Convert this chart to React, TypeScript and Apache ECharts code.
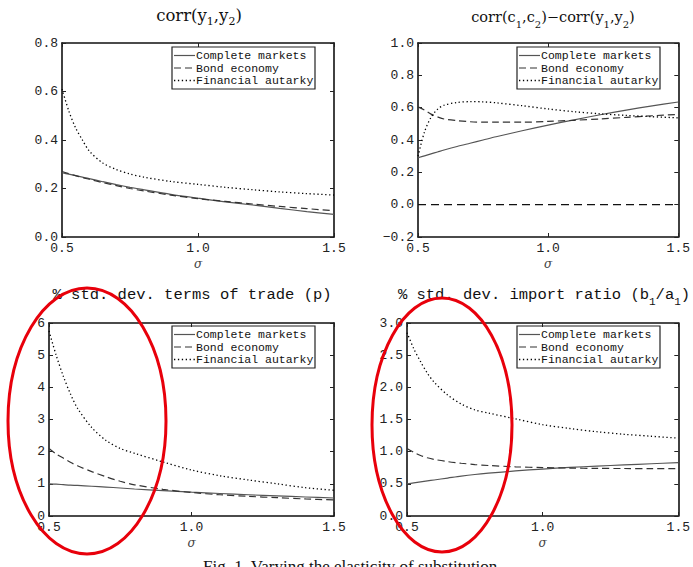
import React, { useEffect, useRef } from "react";
import * as echarts from "echarts";

// sigma grid (elasticity of substitution)
const sigma = [0.5, 0.525, 0.55, 0.575, 0.6, 0.65, 0.7, 0.75, 0.8, 0.9, 1.0, 1.1, 1.2, 1.3, 1.4, 1.5];
const xTicks = [0.5, 1.0, 1.5];
const seriesNames = ["Complete markets", "Bond economy", "Financial autarky"];

// Panel 1: corr(y1,y2)
const complete1 = [0.265, 0.259, 0.253, 0.247, 0.241, 0.228, 0.216, 0.205, 0.195, 0.176, 0.160, 0.145, 0.132, 0.118, 0.105, 0.093];
const bond1 = [0.270, 0.261, 0.253, 0.245, 0.238, 0.224, 0.212, 0.200, 0.190, 0.173, 0.158, 0.147, 0.136, 0.126, 0.117, 0.108];
const autarky1 = [0.610, 0.520, 0.450, 0.400, 0.355, 0.305, 0.278, 0.260, 0.247, 0.229, 0.217, 0.205, 0.195, 0.186, 0.179, 0.173];

// Panel 2: corr(c1,c2)-corr(y1,y2)
const complete2 = [0.290, 0.302, 0.314, 0.326, 0.338, 0.360, 0.380, 0.400, 0.420, 0.457, 0.492, 0.525, 0.556, 0.585, 0.611, 0.635];
const bond2 = [0.605, 0.585, 0.560, 0.543, 0.530, 0.520, 0.513, 0.510, 0.510, 0.510, 0.515, 0.522, 0.530, 0.540, 0.550, 0.558];
const autarky2 = [0.300, 0.450, 0.540, 0.590, 0.615, 0.632, 0.637, 0.636, 0.630, 0.612, 0.592, 0.575, 0.562, 0.552, 0.544, 0.537];
const zeroLineX = [0.5, 1.5];
const zeroLineY = [0, 0];

// Panel 3: % std. dev. terms of trade (p)
const complete3 = [1.00, 0.99, 0.975, 0.96, 0.95, 0.925, 0.90, 0.87, 0.84, 0.79, 0.74, 0.70, 0.66, 0.625, 0.59, 0.56];
const bond3 = [2.10, 1.93, 1.80, 1.67, 1.56, 1.38, 1.22, 1.08, 0.97, 0.83, 0.73, 0.66, 0.61, 0.57, 0.53, 0.50];
const autarky3 = [5.75, 5.00, 4.35, 3.80, 3.35, 2.75, 2.35, 2.10, 1.95, 1.68, 1.43, 1.25, 1.12, 1.00, 0.88, 0.80];

// Panel 4: % std. dev. import ratio (b1/a1)
const complete4 = [0.50, 0.515, 0.53, 0.545, 0.56, 0.59, 0.62, 0.645, 0.665, 0.70, 0.73, 0.755, 0.775, 0.795, 0.812, 0.83];
const bond4 = [1.05, 0.99, 0.94, 0.905, 0.88, 0.845, 0.82, 0.80, 0.785, 0.765, 0.752, 0.745, 0.74, 0.738, 0.736, 0.735];
const autarky4 = [2.85, 2.60, 2.40, 2.22, 2.08, 1.88, 1.74, 1.65, 1.60, 1.51, 1.42, 1.36, 1.31, 1.27, 1.24, 1.21];

const yTicks1 = [0, 0.2, 0.4, 0.6, 0.8];
const yTicks2 = [-0.2, 0, 0.2, 0.4, 0.6, 0.8, 1.0];
const yTicks3 = [0, 1, 2, 3, 4, 5, 6];
const yTicks4 = [0, 0.5, 1.0, 1.5, 2.0, 2.5, 3.0];

const MONO = "Liberation Mono";
const SERIF = "DejaVu Serif";

const panels = [
  {
    grid: { left: 62, top: 43, width: 272, height: 194 },
    yTicks: yTicks1, dec: 1,
    data: [complete1, bond1, autarky1],
    legend: { left: 172, top: 47 },
  },
  {
    grid: { left: 418, top: 43, width: 263, height: 194 },
    yTicks: yTicks2, dec: 1,
    data: [complete2, bond2, autarky2],
    legend: { left: 517, top: 47 },
    zero: true,
  },
  {
    grid: { left: 49, top: 323, width: 285, height: 193 },
    yTicks: yTicks3, dec: 0,
    data: [complete3, bond3, autarky3],
    legend: { left: 172, top: 326 },
  },
  {
    grid: { left: 407, top: 323, width: 274, height: 193 },
    yTicks: yTicks4, dec: 1,
    data: [complete4, bond4, autarky4],
    legend: { left: 517, top: 326 },
  },
];

const lineStyles: any[] = [
  { color: "#555", width: 1.2, type: "solid", dash: null },
  { color: "#333", width: 1.2, type: [7, 4], dash: [7, 4] },
  { color: "#000", width: 1.3, type: [1.3, 2.6], dash: [1.3, 2.6] },
];

const fmt = (v: number, dec: number) => {
  const s = Math.abs(v).toFixed(dec);
  return v < -1e-9 ? "\u2212" + s : s;
};

export default function App() {
  const ref = useRef<HTMLDivElement>(null);
  useEffect(() => {
    const chart = echarts.init(ref.current!, null, { renderer: "svg" });
    const grids: any[] = [];
    const xAxes: any[] = [];
    const yAxes: any[] = [];
    const series: any[] = [];
    const graphic: any[] = [];

    panels.forEach((p, i) => {
      grids.push({ ...p.grid, show: false });
      const yMin = p.yTicks[0];
      const yMax = p.yTicks[p.yTicks.length - 1];
      const yInt = p.yTicks[1] - p.yTicks[0];
      const axisLine = { show: true, onZero: false, lineStyle: { color: "#111", width: 1.6 } };
      const tick = { show: true, inside: true, length: 4, lineStyle: { color: "#222", width: 1 } };
      xAxes.push({
        type: "value", gridIndex: i, position: "bottom", min: xTicks[0], max: xTicks[2],
        interval: xTicks[1] - xTicks[0],
        axisLine, axisTick: tick, splitLine: { show: false },
        axisLabel: { formatter: (v: number) => v.toFixed(1), fontFamily: MONO, fontSize: 13, color: "#222", margin: 5 },
        name: "σ", nameLocation: "middle", nameGap: 21,
        nameTextStyle: { fontFamily: SERIF, fontStyle: "italic", fontSize: 12, color: "#444" },
      });
      xAxes.push({
        type: "value", gridIndex: i, position: "top", min: xTicks[0], max: xTicks[2],
        interval: xTicks[1] - xTicks[0],
        axisLine, axisTick: tick, splitLine: { show: false }, axisLabel: { show: false },
      });
      yAxes.push({
        type: "value", gridIndex: i, position: "left", min: yMin, max: yMax, interval: yInt,
        axisLine, axisTick: tick, splitLine: { show: false },
        axisLabel: { formatter: (v: number) => fmt(v, p.dec), fontFamily: MONO, fontSize: 13, color: "#222", margin: 4 },
      });
      yAxes.push({
        type: "value", gridIndex: i, position: "right", min: yMin, max: yMax, interval: yInt,
        axisLine, axisTick: tick, splitLine: { show: false }, axisLabel: { show: false },
      });
      p.data.forEach((vals, k) => {
        series.push({
          type: "line", name: seriesNames[k], xAxisIndex: 2 * i, yAxisIndex: 2 * i,
          data: sigma.map((s, j) => [s, vals[j]]),
          smooth: 0.3, showSymbol: false, symbol: "none",
          lineStyle: { color: lineStyles[k].color, width: lineStyles[k].width, type: lineStyles[k].type },
          itemStyle: { color: lineStyles[k].color },
          silent: true,
        });
      });
      if ((p as any).zero) {
        series.push({
          type: "line", name: "zero", xAxisIndex: 2 * i, yAxisIndex: 2 * i,
          data: zeroLineX.map((x, j) => [x, zeroLineY[j]]),
          symbol: "none", lineStyle: { color: "#111", width: 1.3, type: [8, 5] }, silent: true,
        });
      }
      // legend box (drawn as graphic so the line samples keep their dash styles)
      const children: any[] = [
        {
          type: "rect", shape: { x: 0, y: 0, width: 143, height: 42 },
          style: { fill: "#fff", stroke: "#222", lineWidth: 1.2 },
        },
      ];
      seriesNames.forEach((nm, k) => {
        const cy = 8.5 + k * 12.5;
        children.push({
          type: "line", shape: { x1: 2, y1: cy, x2: 23, y2: cy },
          style: { stroke: lineStyles[k].color, lineWidth: lineStyles[k].width, lineDash: lineStyles[k].dash },
        });
        children.push({
          type: "text", x: 24, y: cy,
          style: { text: nm, font: `11.5px '${MONO}'`, fill: "#111", verticalAlign: "middle", align: "left" },
        });
      });
      graphic.push({ type: "group", x: p.legend.left, y: p.legend.top, z: 60, children });
    });

    const serifRich = {
      n: { fontFamily: SERIF, fontSize: 16.5, lineHeight: 20, verticalAlign: "top", color: "#111" },
      s: { fontFamily: SERIF, fontSize: 11, lineHeight: 11, padding: [9, 0, 0, 0], verticalAlign: "top", color: "#111" },
    };
    const serifRichSmall = {
      n: { fontFamily: SERIF, fontSize: 14.5, lineHeight: 20, verticalAlign: "top", color: "#111" },
      s: { fontFamily: SERIF, fontSize: 10, lineHeight: 10, padding: [10, 0, 0, 0], verticalAlign: "top", color: "#111" },
    };
    const monoRich = {
      m: { fontFamily: MONO, fontSize: 15.5, lineHeight: 20, verticalAlign: "top", color: "#111" },
      ms: { fontFamily: MONO, fontSize: 11, lineHeight: 11, padding: [9, 0, 0, 0], verticalAlign: "top", color: "#111" },
    };

    const titles = [
      { x: 199, y: 7, text: "{n|corr(y}{s|1}{n|,y}{s|2}{n|)}", rich: serifRich },
      { x: 553, y: 9, text: "{n|corr(c}{s|1}{n|,c}{s|2}{n|)\u2212corr(y}{s|1}{n|,y}{s|2}{n|)}", rich: serifRichSmall },
      { x: 192, y: 287, text: "{m|% std. dev. terms of trade (p)}", rich: monoRich },
      { x: 544, y: 287, text: "{m|% std. dev. import ratio (b}{ms|1}{m|/a}{ms|1}{m|)}", rich: monoRich },
    ];

    titles.forEach((t) =>
      graphic.push({
        type: "text", x: t.x, y: t.y, z: 50,
        style: { text: t.text, rich: t.rich, align: "center", verticalAlign: "top", fill: "#111" },
      })
    );
    graphic.push({
      type: "text", x: 203, y: 558, z: 50,
      style: { text: "Fig. 1. Varying the elasticity of substitution", font: "17px 'Liberation Serif'", fill: "#111", verticalAlign: "top" },
    });
    graphic.push({
      type: "ellipse", z: 100, shape: { cx: 87, cy: 421, rx: 79, ry: 133 },
      style: { fill: "none", stroke: "#e8000b", lineWidth: 3 },
    });
    graphic.push({
      type: "ellipse", z: 100, shape: { cx: 442, cy: 425, rx: 70, ry: 127 },
      style: { fill: "none", stroke: "#e8000b", lineWidth: 3 },
    });

    chart.setOption({
      animation: false,
      backgroundColor: "#fff",
      grid: grids,
      xAxis: xAxes,
      yAxis: yAxes,
      series,
      graphic,
    });
    return () => chart.dispose();
  }, []);
  return (
    <div
      ref={ref}
      style={{ position: "absolute", left: 0, top: 0, width: 693, height: 567, background: "#fff", overflow: "hidden" }}
    />
  );
}
